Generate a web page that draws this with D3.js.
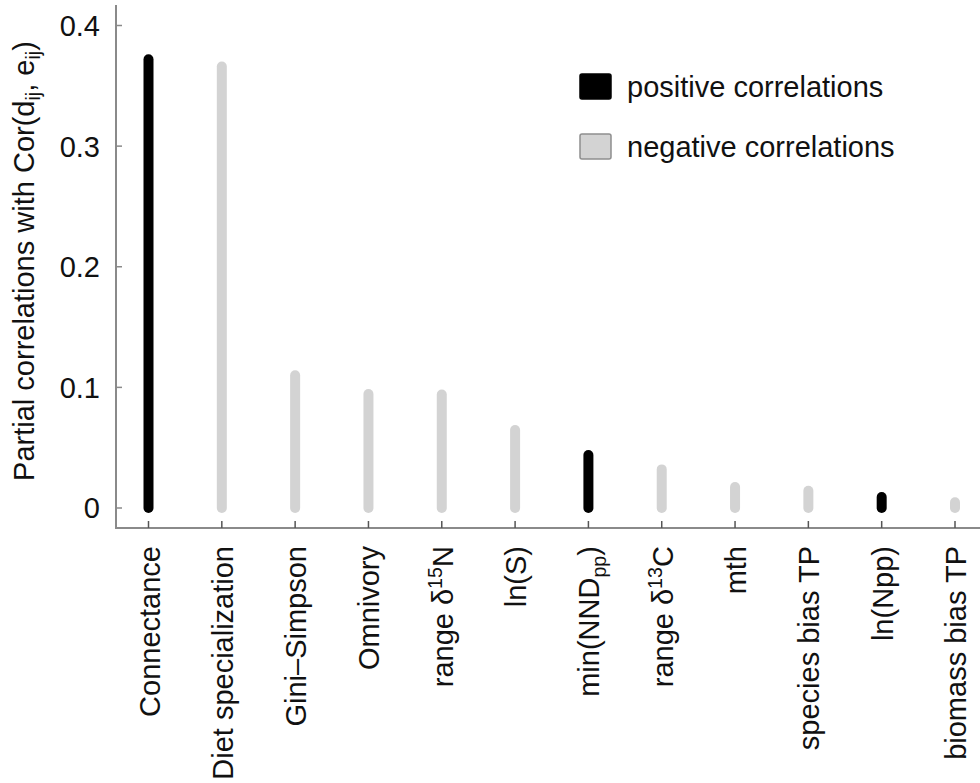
<!DOCTYPE html>
<html>
<head>
<meta charset="utf-8">
<script src="https://cdn.jsdelivr.net/npm/d3@7"></script>
<style>
  html, body { margin: 0; padding: 0; background: #fff; }
  svg { display: block; font-family: "Liberation Sans", Arial, Helvetica, sans-serif; }
</style>
</head>
<body>
<svg id="chart" width="980" height="783"></svg>
<script>
// ---- data ----
const categories = ["Connectance", "Diet specialization", "Gini\u2013Simpson", "Omnivory",
  "range d15N", "ln(S)", "min(NNDpp)", "range d13C", "mth", "species bias TP", "ln(Npp)", "biomass bias TP"];
const values = [0.372, 0.366, 0.110, 0.0945, 0.094, 0.0647, 0.044, 0.032, 0.0174, 0.0143, 0.0091, 0.0047];
const signs = ["positive", "negative", "negative", "negative", "negative", "negative",
  "positive", "negative", "negative", "negative", "positive", "negative"];
const yTicks = [0, 0.1, 0.2, 0.3, 0.4];
const yTickLabels = ["0", "0.1", "0.2", "0.3", "0.4"];
const legendLabels = ["positive correlations", "negative correlations"];
const legendKeys = ["positive", "negative"];

// label pieces: [text, kind] kind: n normal, sup, sub
const labelParts = [
  [["Connectance", "n"]],
  [["Diet specialization", "n"]],
  [["Gini\u2013Simpson", "n"]],
  [["Omnivory", "n"]],
  [["range \u03b4", "n"], ["15", "sup"], ["N", "n"]],
  [["ln(S)", "n"]],
  [["min(NND", "n"], ["pp", "sub"], [")", "n"]],
  [["range \u03b4", "n"], ["13", "sup"], ["C", "n"]],
  [["mth", "n"]],
  [["species bias TP", "n"]],
  [["ln(Npp)", "n"]],
  [["biomass bias TP", "n"]]
];

const colors = { positive: "#000000", negative: "#d3d3d3" };
const fs = 29;

const svg = d3.select("#chart");
const x = d3.scalePoint().domain(categories).range([148.5, 955]);
const y = d3.scaleLinear().domain([0, 0.4]).range([508, 25.5]);

const axisColor = "#8a8a8a";

// y axis line
svg.append("line").attr("x1", 116).attr("x2", 116).attr("y1", 5).attr("y2", 529)
  .attr("stroke", axisColor).attr("stroke-width", 2);
// x axis line
svg.append("line").attr("x1", 115).attr("x2", 980).attr("y1", 528).attr("y2", 528)
  .attr("stroke", axisColor).attr("stroke-width", 2);

// y ticks (inward)
svg.selectAll(".yt").data(yTicks).enter().append("line")
  .attr("x1", 116).attr("x2", 122)
  .attr("y1", d => y(d)).attr("y2", d => y(d))
  .attr("stroke", axisColor).attr("stroke-width", 1.5);
svg.selectAll(".ytl").data(yTicks).enter().append("text")
  .attr("x", 100).attr("y", d => y(d)).attr("dy", "0.36em")
  .attr("text-anchor", "end").attr("font-size", fs).attr("fill", "#111")
  .text((d, i) => yTickLabels[i]);

// x ticks (inward)
svg.selectAll(".xt").data(categories).enter().append("line")
  .attr("x1", d => x(d)).attr("x2", d => x(d))
  .attr("y1", 528).attr("y2", 521)
  .attr("stroke", "#555").attr("stroke-width", 1.5);

// bars as thick round-capped lines
svg.selectAll(".bar").data(categories).enter().append("line")
  .attr("x1", d => x(d)).attr("x2", d => x(d))
  .attr("y1", y(0)).attr("y2", (d, i) => y(values[i]))
  .attr("stroke", (d, i) => colors[signs[i]])
  .attr("stroke-width", 10).attr("stroke-linecap", "round");

// x labels, rotated
categories.forEach((c, i) => {
  const t = svg.append("text")
    .attr("transform", `translate(${x(c) + 11},546) rotate(-90)`)
    .attr("text-anchor", "end").attr("font-size", fs).attr("fill", "#111");
  labelParts[i].forEach((p, j) => {
    const ts = t.append("tspan").text(p[0]);
    if (p[1] === "sup") ts.attr("font-size", fs * 0.68).attr("dy", -11);
    else if (p[1] === "sub") ts.attr("font-size", fs * 0.68).attr("dy", 7);
    else if (j > 0) {
      const prev = labelParts[i][j - 1];
      if (prev[1] === "sup") ts.attr("dy", 11);
      if (prev[1] === "sub") ts.attr("dy", -7);
    }
  });
});

// y title
const yt = svg.append("text")
  .attr("transform", "translate(34,261) rotate(-90)")
  .attr("text-anchor", "middle").attr("font-size", fs).attr("fill", "#111");
yt.append("tspan").text("Partial correlations with Cor(d");
yt.append("tspan").text("ij").attr("font-size", fs * 0.68).attr("dy", 6);
yt.append("tspan").text(", e").attr("dy", -6);
yt.append("tspan").text("ij").attr("font-size", fs * 0.68).attr("dy", 6);
yt.append("tspan").text(")").attr("dy", -6);

// legend
const lg = svg.selectAll(".lg").data(legendKeys).enter().append("g")
  .attr("transform", (d, i) => `translate(580,${74 + i * 60})`);
lg.append("rect").attr("width", 31).attr("height", 25).attr("rx", 2)
  .attr("fill", d => colors[d])
  .attr("stroke", d => d === "positive" ? "#000" : "#8f8f8f").attr("stroke-width", 1.5);
lg.append("text").attr("x", 47).attr("y", 12.5).attr("dy", "0.36em")
  .attr("font-size", fs).attr("fill", "#111")
  .text((d, i) => legendLabels[i]);
</script>
</body>
</html>
